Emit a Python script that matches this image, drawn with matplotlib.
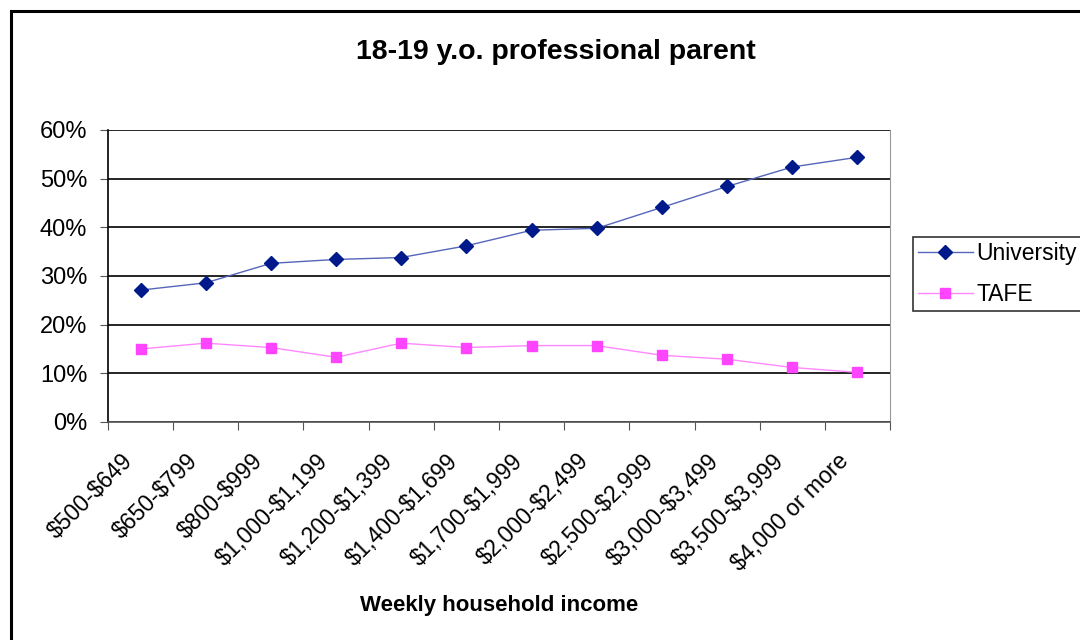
import matplotlib
matplotlib.use("Agg")
import matplotlib.pyplot as plt
from matplotlib.patches import Rectangle
from matplotlib.ticker import FixedLocator, PercentFormatter
from matplotlib.transforms import ScaledTranslation

plt.rcParams['font.family'] = ['Liberation Sans', 'DejaVu Sans']
plt.rcParams['text.parse_math'] = False

categories = ["$500-$649", "$650-$799", "$800-$999", "$1,000-$1,199", "$1,200-$1,399",
              "$1,400-$1,699", "$1,700-$1,999", "$2,000-$2,499", "$2,500-$2,999",
              "$3,000-$3,499", "$3,500-$3,999", "$4,000 or more"]
university = [27.1, 28.6, 32.6, 33.4, 33.8, 36.2, 39.4, 39.8, 44.1, 48.4, 52.4, 54.4]
tafe = [15.0, 16.2, 15.3, 13.3, 16.2, 15.3, 15.7, 15.7, 13.7, 12.9, 11.2, 10.2]

W, H = 1080, 640
fig = plt.figure(figsize=(W / 100, H / 100), dpi=100)

# figure frame
fig.patches.append(Rectangle((11 / W, -0.1), 1.2, 1 - 11 / H + 0.1, transform=fig.transFigure,
                             fill=False, edgecolor='black', linewidth=2.2, zorder=0))

ax = fig.add_axes([108 / W, 1 - 422 / H, (890 - 108) / W, (422 - 130) / H])
x = list(range(len(categories)))
ax.plot(x, university, color='#5566BB', linewidth=1, marker='D', markersize=7.5,
        markerfacecolor='#001a8c', markeredgecolor='#001a8c', label='University')
ax.plot(x, tafe, color='#FF88FF', linewidth=1, marker='s', markersize=7,
        markerfacecolor='#FF44FF', markeredgecolor='#FF44FF', label='TAFE')

ax.set_xlim(-0.5, len(categories) - 0.5)
ax.set_ylim(0, 60)
ax.yaxis.set_major_locator(FixedLocator([0, 10, 20, 30, 40, 50, 60]))
ax.yaxis.set_major_formatter(PercentFormatter(decimals=0))
ax.grid(axis='y', color='black', linewidth=1.2)
ax.set_axisbelow(True)

ax.set_xticks([i - 0.5 for i in range(len(categories) + 1)], minor=False)
ax.set_xticklabels([])
ax.set_xticks(x, minor=True)
ax.set_xticklabels(categories, minor=True, rotation=45, ha='right', va='top',
                   rotation_mode='anchor', fontsize=16.5)
ax.tick_params(axis='x', which='minor', length=0, pad=14)
ax.tick_params(axis='x', which='major', length=6, direction='out', color='#555555')
ax.tick_params(axis='y', length=6, direction='out', labelsize=17, pad=9, color='#555555')
offset = ScaledTranslation(-0.2, -0.08, fig.dpi_scale_trans)
for lab in ax.get_xticklabels(minor=True):
    lab.set_transform(lab.get_transform() + offset)

for side in ['left', 'bottom']:
    ax.spines[side].set_color('black')
    ax.spines[side].set_linewidth(1.2)
ax.spines['bottom'].set_color('#555555')
ax.spines['right'].set_color('#999999')
ax.spines['top'].set_visible(False)

fig.text(556 / W, 1 - 52 / H, "18-19 y.o. professional parent", ha='center', va='center',
         fontsize=20.5, fontweight='bold')
fig.text(499 / W, 1 - 605 / H, "Weekly household income", ha='center', va='center',
         fontsize=16, fontweight='bold')

leg = fig.legend(loc='upper left', bbox_to_anchor=(913 / W, 1 - 237 / H), fontsize=16.5,
                 frameon=True, fancybox=False, edgecolor='black', handlelength=2.4,
                 borderpad=0.2, labelspacing=0.8, handletextpad=0.15, borderaxespad=0)
leg.get_frame().set_linewidth(1.2)

fig.savefig("out.png", dpi=100)
